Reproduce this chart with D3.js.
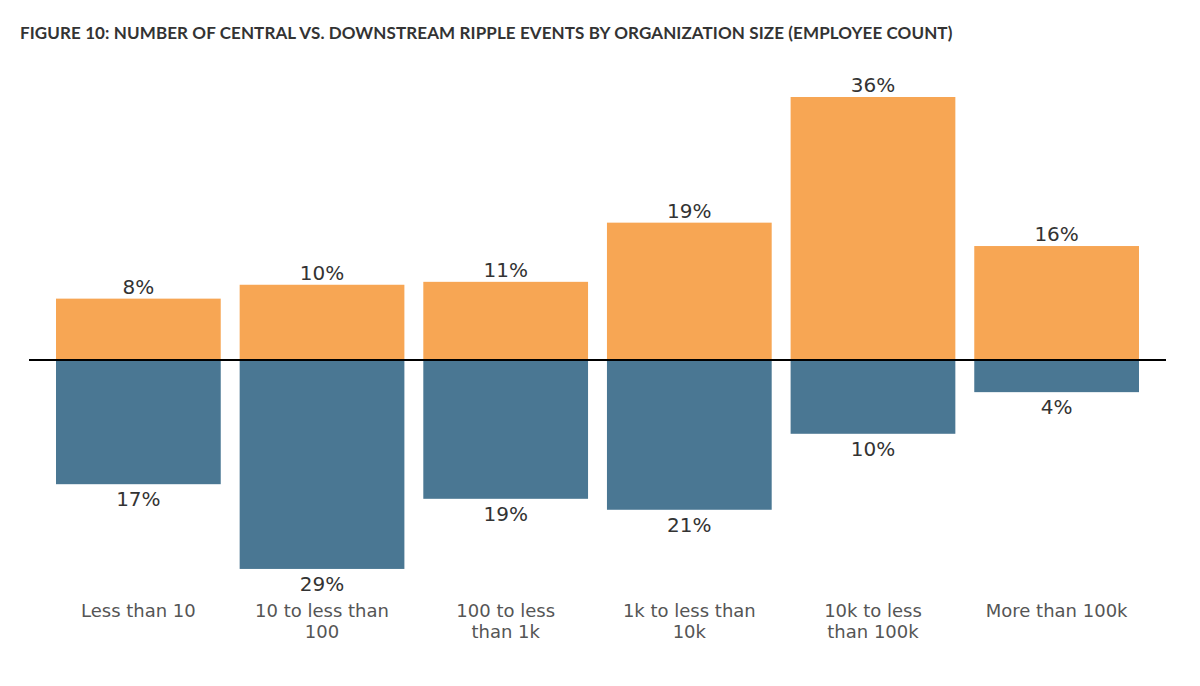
<!DOCTYPE html>
<html>
<head>
<meta charset="utf-8">
<script src="https://cdn.jsdelivr.net/npm/d3@7"></script>
<style>
	body { margin: 0; background: #fff; }
	svg { display: block; }
</style>
</head>
<body>
<div id="chart"></div>
<script>

var categories = [
	["Less than 10"],
	["10 to less than", "100"],
	["100 to less", "than 1k"],
	["1k to less than", "10k"],
	["10k to less", "than 100k"],
	["More than 100k"]
]

// share of events, percent (labels are rounded)
var central = [8.4, 10.3, 10.7, 18.8, 36, 15.6]
var downstream = [17, 28.6, 19, 20.5, 10.1, 4.4]

var title = "FIGURE 10: NUMBER OF CENTRAL VS. DOWNSTREAM RIPPLE EVENTS BY ORGANIZATION SIZE (EMPLOYEE COUNT)"

var width = 1200
var height = 686

var svg = d3.select("#chart").append("svg")
	.attr("width", width)
	.attr("height", height)

svg.append("text")
	.attr("x", 20)
	.attr("y", 39)
	.style("font-family", "Lato, 'Open Sans', sans-serif")
	.style("font-weight", "bold")
	.style("font-size", "17px")
	.style("letter-spacing", "0.1px")
	.style("fill", "#333")
	.text(title)

var x = d3.scaleBand()
	.domain(d3.range(categories.length))
	.range([56, 1139])
	.paddingInner(0.103)
	.paddingOuter(0)

var y = d3.scaleLinear()
	.domain([0, 36])
	.range([360, 97])

var format = function(d) { return Math.round(d) + "%" }

var labelFont = "'DejaVu Sans', sans-serif"

svg.selectAll(".up")
	.data(central)
	.enter().append("rect")
	.attr("class", "up")
	.attr("x", function(d, i) { return x(i) })
	.attr("width", x.bandwidth())
	.attr("y", function(d) { return y(d) })
	.attr("height", function(d) { return y(0) - y(d) })
	.style("fill", "#f7a654")

svg.selectAll(".down")
	.data(downstream)
	.enter().append("rect")
	.attr("class", "down")
	.attr("x", function(d, i) { return x(i) })
	.attr("width", x.bandwidth())
	.attr("y", y(0))
	.attr("height", function(d) { return y(0) - y(d) })
	.style("fill", "#4a7793")

svg.append("line")
	.attr("x1", 29)
	.attr("x2", 1166)
	.attr("y1", y(0))
	.attr("y2", y(0))
	.style("stroke", "#000")
	.style("stroke-width", 2)

svg.selectAll(".upLabel")
	.data(central)
	.enter().append("text")
	.attr("class", "upLabel")
	.attr("x", function(d, i) { return x(i) + x.bandwidth() / 2 })
	.attr("y", function(d) { return y(d) - 5 })
	.attr("text-anchor", "middle")
	.style("font-family", labelFont)
	.style("font-size", "20px")
	.style("fill", "#333")
	.text(format)

svg.selectAll(".downLabel")
	.data(downstream)
	.enter().append("text")
	.attr("class", "downLabel")
	.attr("x", function(d, i) { return x(i) + x.bandwidth() / 2 })
	.attr("y", function(d) { return y(0) + (y(0) - y(d)) + 22 })
	.attr("text-anchor", "middle")
	.style("font-family", labelFont)
	.style("font-size", "20px")
	.style("fill", "#333")
	.text(format)

var cats = svg.selectAll(".cat")
	.data(categories)
	.enter().append("text")
	.attr("class", "cat")
	.attr("text-anchor", "middle")
	.attr("transform", function(d, i) { return "translate(" + (x(i) + x.bandwidth() / 2) + ",617)" })
	.style("font-family", labelFont)
	.style("font-size", "18px")
	.style("fill", "#555")

cats.selectAll("tspan")
	.data(function(d) { return d })
	.enter().append("tspan")
	.attr("x", 0)
	.attr("dy", function(d, i) { return i ? 21 : 0 })
	.text(function(d) { return d })

</script>
</body>
</html>
